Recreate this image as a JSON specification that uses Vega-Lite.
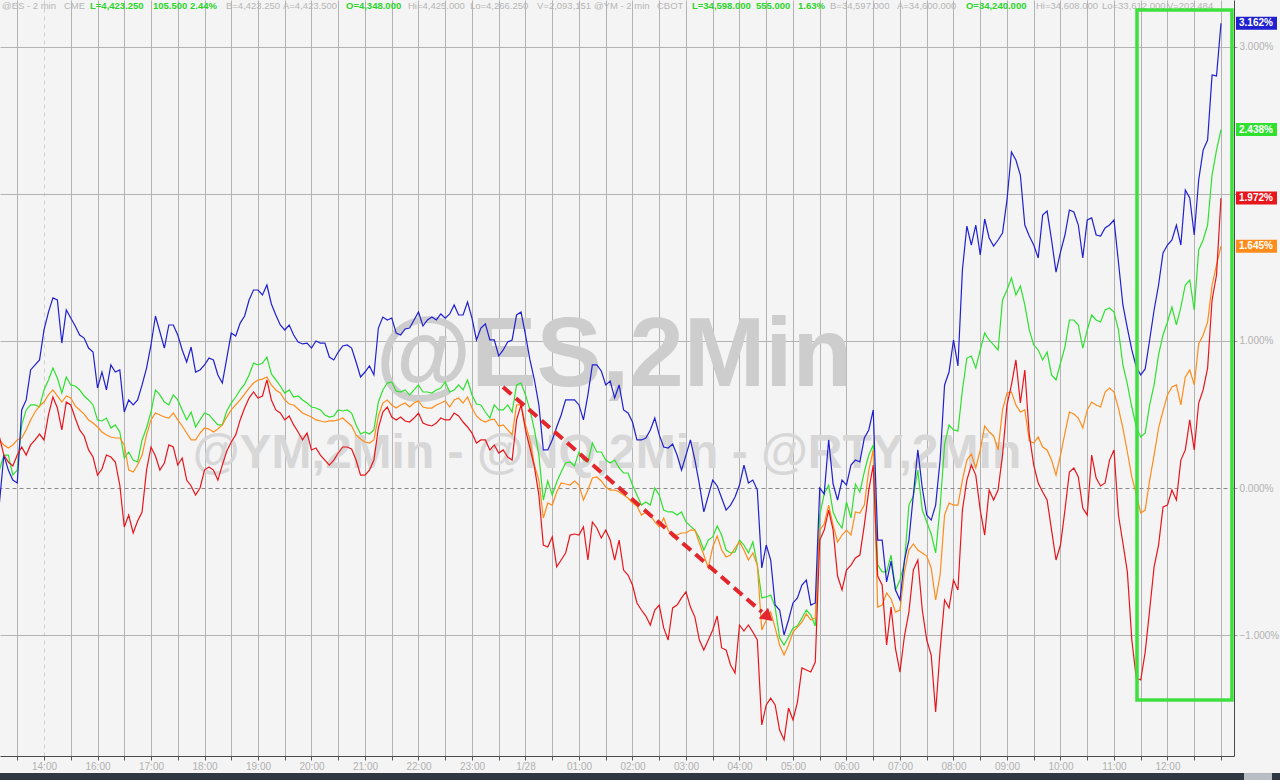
{
  "$schema": "https://vega.github.io/schema/vega-lite/v6.json",
  "width": 1234,
  "height": 756,
  "autosize": {"type": "none"},
  "padding": {"left": 0, "top": 0, "right": 46, "bottom": 24},
  "background": "#f4f4f4",
  "config": {
    "view": {"stroke": null},
    "text": {"font": "Liberation Sans"},
    "axis": {"labelFont": "Liberation Sans"}
  },
  "datasets": {
    "px": [
      {"m": -50, "ES": 0.122, "YM": 0.327, "NQ": -0.102, "RTY": 0.347},
      {"m": -45, "ES": 0.224, "YM": 0.293, "NQ": 0.224, "RTY": 0.224},
      {"m": -40, "ES": 0.224, "YM": 0.272, "NQ": 0.122, "RTY": 0.177},
      {"m": -35, "ES": 0.088, "YM": 0.293, "NQ": 0.054, "RTY": 0.150},
      {"m": -30, "ES": 0.122, "YM": 0.327, "NQ": 0.034, "RTY": 0.224},
      {"m": -25, "ES": 0.429, "YM": 0.340, "NQ": 0.531, "RTY": 0.279},
      {"m": -20, "ES": 0.531, "YM": 0.395, "NQ": 0.599, "RTY": 0.224},
      {"m": -15, "ES": 0.565, "YM": 0.463, "NQ": 0.803, "RTY": 0.293},
      {"m": -10, "ES": 0.565, "YM": 0.517, "NQ": 0.837, "RTY": 0.327},
      {"m": -5, "ES": 0.551, "YM": 0.558, "NQ": 0.871, "RTY": 0.367},
      {"m": 0, "ES": 0.667, "YM": 0.585, "NQ": 1.075, "RTY": 0.327},
      {"m": 5, "ES": 0.735, "YM": 0.633, "NQ": 1.197, "RTY": 0.497},
      {"m": 10, "ES": 0.816, "YM": 0.667, "NQ": 1.293, "RTY": 0.619},
      {"m": 15, "ES": 0.748, "YM": 0.626, "NQ": 1.279, "RTY": 0.544},
      {"m": 20, "ES": 0.646, "YM": 0.585, "NQ": 0.986, "RTY": 0.395},
      {"m": 25, "ES": 0.755, "YM": 0.626, "NQ": 1.211, "RTY": 0.585},
      {"m": 30, "ES": 0.701, "YM": 0.612, "NQ": 1.156, "RTY": 0.565},
      {"m": 35, "ES": 0.694, "YM": 0.558, "NQ": 1.102, "RTY": 0.476},
      {"m": 40, "ES": 0.667, "YM": 0.531, "NQ": 1.041, "RTY": 0.395},
      {"m": 45, "ES": 0.626, "YM": 0.503, "NQ": 1.020, "RTY": 0.354},
      {"m": 50, "ES": 0.599, "YM": 0.463, "NQ": 0.952, "RTY": 0.259},
      {"m": 55, "ES": 0.565, "YM": 0.442, "NQ": 0.925, "RTY": 0.211},
      {"m": 60, "ES": 0.463, "YM": 0.415, "NQ": 0.680, "RTY": 0.088},
      {"m": 65, "ES": 0.456, "YM": 0.381, "NQ": 0.789, "RTY": 0.129},
      {"m": 70, "ES": 0.476, "YM": 0.361, "NQ": 0.667, "RTY": 0.224},
      {"m": 75, "ES": 0.408, "YM": 0.347, "NQ": 0.837, "RTY": 0.211},
      {"m": 80, "ES": 0.429, "YM": 0.340, "NQ": 0.789, "RTY": 0.177},
      {"m": 85, "ES": 0.381, "YM": 0.340, "NQ": 0.803, "RTY": 0.020},
      {"m": 90, "ES": 0.204, "YM": 0.293, "NQ": 0.517, "RTY": -0.265},
      {"m": 95, "ES": 0.245, "YM": 0.122, "NQ": 0.599, "RTY": -0.184},
      {"m": 100, "ES": 0.190, "YM": 0.109, "NQ": 0.565, "RTY": -0.306},
      {"m": 105, "ES": 0.177, "YM": 0.156, "NQ": 0.599, "RTY": -0.224},
      {"m": 110, "ES": 0.327, "YM": 0.224, "NQ": 0.701, "RTY": -0.163},
      {"m": 115, "ES": 0.408, "YM": 0.361, "NQ": 0.816, "RTY": 0.122},
      {"m": 120, "ES": 0.517, "YM": 0.463, "NQ": 0.973, "RTY": 0.279},
      {"m": 125, "ES": 0.667, "YM": 0.510, "NQ": 1.170, "RTY": 0.218},
      {"m": 130, "ES": 0.633, "YM": 0.497, "NQ": 1.061, "RTY": 0.122},
      {"m": 135, "ES": 0.585, "YM": 0.483, "NQ": 0.952, "RTY": 0.170},
      {"m": 140, "ES": 0.565, "YM": 0.476, "NQ": 1.109, "RTY": 0.293},
      {"m": 145, "ES": 0.633, "YM": 0.510, "NQ": 1.109, "RTY": 0.279},
      {"m": 150, "ES": 0.599, "YM": 0.463, "NQ": 1.041, "RTY": 0.156},
      {"m": 155, "ES": 0.531, "YM": 0.422, "NQ": 0.939, "RTY": 0.204},
      {"m": 160, "ES": 0.463, "YM": 0.374, "NQ": 0.857, "RTY": 0.054},
      {"m": 165, "ES": 0.517, "YM": 0.327, "NQ": 0.959, "RTY": 0.014},
      {"m": 170, "ES": 0.415, "YM": 0.327, "NQ": 0.789, "RTY": -0.048},
      {"m": 175, "ES": 0.463, "YM": 0.374, "NQ": 0.803, "RTY": 0.000},
      {"m": 180, "ES": 0.510, "YM": 0.408, "NQ": 0.837, "RTY": 0.122},
      {"m": 185, "ES": 0.497, "YM": 0.401, "NQ": 0.884, "RTY": 0.143},
      {"m": 190, "ES": 0.463, "YM": 0.381, "NQ": 0.871, "RTY": 0.122},
      {"m": 195, "ES": 0.429, "YM": 0.401, "NQ": 0.769, "RTY": 0.054},
      {"m": 200, "ES": 0.429, "YM": 0.429, "NQ": 0.714, "RTY": 0.156},
      {"m": 205, "ES": 0.524, "YM": 0.483, "NQ": 0.884, "RTY": 0.252},
      {"m": 210, "ES": 0.578, "YM": 0.531, "NQ": 1.054, "RTY": 0.313},
      {"m": 215, "ES": 0.619, "YM": 0.565, "NQ": 1.034, "RTY": 0.361},
      {"m": 220, "ES": 0.667, "YM": 0.599, "NQ": 1.122, "RTY": 0.463},
      {"m": 225, "ES": 0.707, "YM": 0.639, "NQ": 1.170, "RTY": 0.544},
      {"m": 230, "ES": 0.769, "YM": 0.680, "NQ": 1.279, "RTY": 0.612},
      {"m": 235, "ES": 0.850, "YM": 0.714, "NQ": 1.347, "RTY": 0.653},
      {"m": 240, "ES": 0.837, "YM": 0.735, "NQ": 1.347, "RTY": 0.612},
      {"m": 245, "ES": 0.850, "YM": 0.741, "NQ": 1.313, "RTY": 0.626},
      {"m": 250, "ES": 0.891, "YM": 0.755, "NQ": 1.381, "RTY": 0.735},
      {"m": 255, "ES": 0.776, "YM": 0.701, "NQ": 1.252, "RTY": 0.599},
      {"m": 260, "ES": 0.735, "YM": 0.667, "NQ": 1.177, "RTY": 0.531},
      {"m": 265, "ES": 0.694, "YM": 0.646, "NQ": 1.109, "RTY": 0.510},
      {"m": 270, "ES": 0.646, "YM": 0.599, "NQ": 1.075, "RTY": 0.463},
      {"m": 275, "ES": 0.667, "YM": 0.571, "NQ": 1.109, "RTY": 0.490},
      {"m": 280, "ES": 0.619, "YM": 0.565, "NQ": 1.041, "RTY": 0.429},
      {"m": 285, "ES": 0.626, "YM": 0.537, "NQ": 0.993, "RTY": 0.381},
      {"m": 290, "ES": 0.599, "YM": 0.510, "NQ": 0.980, "RTY": 0.327},
      {"m": 295, "ES": 0.578, "YM": 0.497, "NQ": 0.986, "RTY": 0.374},
      {"m": 300, "ES": 0.551, "YM": 0.483, "NQ": 0.952, "RTY": 0.259},
      {"m": 305, "ES": 0.544, "YM": 0.463, "NQ": 1.000, "RTY": 0.272},
      {"m": 310, "ES": 0.531, "YM": 0.456, "NQ": 0.986, "RTY": 0.224},
      {"m": 315, "ES": 0.497, "YM": 0.449, "NQ": 0.986, "RTY": 0.190},
      {"m": 320, "ES": 0.483, "YM": 0.456, "NQ": 0.891, "RTY": 0.156},
      {"m": 325, "ES": 0.490, "YM": 0.456, "NQ": 0.871, "RTY": 0.190},
      {"m": 330, "ES": 0.531, "YM": 0.463, "NQ": 0.925, "RTY": 0.238},
      {"m": 335, "ES": 0.524, "YM": 0.476, "NQ": 0.966, "RTY": 0.279},
      {"m": 340, "ES": 0.531, "YM": 0.449, "NQ": 0.973, "RTY": 0.279},
      {"m": 345, "ES": 0.510, "YM": 0.422, "NQ": 0.952, "RTY": 0.265},
      {"m": 350, "ES": 0.429, "YM": 0.361, "NQ": 0.857, "RTY": 0.190},
      {"m": 355, "ES": 0.367, "YM": 0.333, "NQ": 0.755, "RTY": 0.088},
      {"m": 360, "ES": 0.381, "YM": 0.313, "NQ": 0.789, "RTY": 0.088},
      {"m": 365, "ES": 0.367, "YM": 0.306, "NQ": 0.830, "RTY": 0.122},
      {"m": 370, "ES": 0.395, "YM": 0.327, "NQ": 0.769, "RTY": 0.190},
      {"m": 375, "ES": 0.585, "YM": 0.490, "NQ": 1.088, "RTY": 0.408},
      {"m": 380, "ES": 0.667, "YM": 0.578, "NQ": 1.163, "RTY": 0.517},
      {"m": 385, "ES": 0.714, "YM": 0.599, "NQ": 1.143, "RTY": 0.551},
      {"m": 390, "ES": 0.721, "YM": 0.565, "NQ": 1.156, "RTY": 0.483},
      {"m": 395, "ES": 0.660, "YM": 0.544, "NQ": 1.054, "RTY": 0.463},
      {"m": 400, "ES": 0.653, "YM": 0.565, "NQ": 1.041, "RTY": 0.483},
      {"m": 405, "ES": 0.667, "YM": 0.578, "NQ": 1.082, "RTY": 0.456},
      {"m": 410, "ES": 0.633, "YM": 0.551, "NQ": 1.088, "RTY": 0.449},
      {"m": 415, "ES": 0.667, "YM": 0.578, "NQ": 1.143, "RTY": 0.476},
      {"m": 420, "ES": 0.701, "YM": 0.592, "NQ": 1.197, "RTY": 0.510},
      {"m": 425, "ES": 0.653, "YM": 0.551, "NQ": 1.102, "RTY": 0.442},
      {"m": 430, "ES": 0.653, "YM": 0.544, "NQ": 1.143, "RTY": 0.429},
      {"m": 435, "ES": 0.646, "YM": 0.544, "NQ": 1.163, "RTY": 0.422},
      {"m": 440, "ES": 0.667, "YM": 0.565, "NQ": 1.143, "RTY": 0.442},
      {"m": 445, "ES": 0.680, "YM": 0.578, "NQ": 1.184, "RTY": 0.476},
      {"m": 450, "ES": 0.721, "YM": 0.592, "NQ": 1.156, "RTY": 0.463},
      {"m": 455, "ES": 0.653, "YM": 0.551, "NQ": 1.184, "RTY": 0.463},
      {"m": 460, "ES": 0.667, "YM": 0.599, "NQ": 1.245, "RTY": 0.510},
      {"m": 465, "ES": 0.701, "YM": 0.612, "NQ": 1.177, "RTY": 0.490},
      {"m": 470, "ES": 0.667, "YM": 0.578, "NQ": 1.177, "RTY": 0.449},
      {"m": 475, "ES": 0.735, "YM": 0.619, "NQ": 1.265, "RTY": 0.415},
      {"m": 480, "ES": 0.633, "YM": 0.544, "NQ": 1.156, "RTY": 0.374},
      {"m": 485, "ES": 0.571, "YM": 0.490, "NQ": 1.007, "RTY": 0.306},
      {"m": 490, "ES": 0.565, "YM": 0.463, "NQ": 1.088, "RTY": 0.327},
      {"m": 495, "ES": 0.517, "YM": 0.449, "NQ": 1.116, "RTY": 0.327},
      {"m": 500, "ES": 0.476, "YM": 0.463, "NQ": 1.007, "RTY": 0.259},
      {"m": 505, "ES": 0.565, "YM": 0.469, "NQ": 1.007, "RTY": 0.293},
      {"m": 510, "ES": 0.531, "YM": 0.422, "NQ": 0.898, "RTY": 0.238},
      {"m": 515, "ES": 0.531, "YM": 0.429, "NQ": 0.939, "RTY": 0.259},
      {"m": 520, "ES": 0.565, "YM": 0.395, "NQ": 0.993, "RTY": 0.211},
      {"m": 525, "ES": 0.517, "YM": 0.361, "NQ": 1.007, "RTY": 0.190},
      {"m": 530, "ES": 0.701, "YM": 0.565, "NQ": 1.177, "RTY": 0.463},
      {"m": 535, "ES": 0.714, "YM": 0.565, "NQ": 1.197, "RTY": 0.565},
      {"m": 540, "ES": 0.633, "YM": 0.429, "NQ": 1.041, "RTY": 0.395},
      {"m": 545, "ES": 0.531, "YM": 0.327, "NQ": 0.871, "RTY": 0.272},
      {"m": 550, "ES": 0.395, "YM": 0.156, "NQ": 0.735, "RTY": 0.143},
      {"m": 555, "ES": 0.224, "YM": 0.054, "NQ": 0.565, "RTY": -0.048},
      {"m": 560, "ES": -0.082, "YM": -0.204, "NQ": 0.259, "RTY": -0.388},
      {"m": 565, "ES": 0.048, "YM": -0.102, "NQ": 0.259, "RTY": -0.401},
      {"m": 570, "ES": -0.048, "YM": -0.116, "NQ": 0.327, "RTY": -0.333},
      {"m": 575, "ES": 0.041, "YM": -0.027, "NQ": 0.415, "RTY": -0.537},
      {"m": 580, "ES": 0.109, "YM": 0.034, "NQ": 0.497, "RTY": -0.490},
      {"m": 585, "ES": 0.170, "YM": 0.027, "NQ": 0.599, "RTY": -0.442},
      {"m": 590, "ES": 0.177, "YM": 0.020, "NQ": 0.599, "RTY": -0.320},
      {"m": 595, "ES": 0.150, "YM": 0.048, "NQ": 0.599, "RTY": -0.313},
      {"m": 600, "ES": 0.245, "YM": 0.020, "NQ": 0.565, "RTY": -0.320},
      {"m": 605, "ES": 0.190, "YM": -0.082, "NQ": 0.463, "RTY": -0.265},
      {"m": 610, "ES": 0.177, "YM": -0.014, "NQ": 0.633, "RTY": -0.490},
      {"m": 615, "ES": 0.306, "YM": 0.068, "NQ": 0.837, "RTY": -0.231},
      {"m": 620, "ES": 0.245, "YM": 0.075, "NQ": 0.837, "RTY": -0.272},
      {"m": 625, "ES": 0.245, "YM": 0.048, "NQ": 0.796, "RTY": -0.340},
      {"m": 630, "ES": 0.190, "YM": 0.007, "NQ": 0.701, "RTY": -0.286},
      {"m": 635, "ES": 0.170, "YM": -0.014, "NQ": 0.728, "RTY": -0.354},
      {"m": 640, "ES": 0.190, "YM": -0.014, "NQ": 0.612, "RTY": -0.490},
      {"m": 645, "ES": 0.136, "YM": -0.027, "NQ": 0.701, "RTY": -0.354},
      {"m": 650, "ES": 0.102, "YM": -0.048, "NQ": 0.531, "RTY": -0.558},
      {"m": 655, "ES": 0.102, "YM": -0.068, "NQ": 0.510, "RTY": -0.592},
      {"m": 660, "ES": 0.020, "YM": -0.102, "NQ": 0.449, "RTY": -0.660},
      {"m": 665, "ES": -0.048, "YM": -0.122, "NQ": 0.327, "RTY": -0.782},
      {"m": 670, "ES": -0.116, "YM": -0.184, "NQ": 0.327, "RTY": -0.830},
      {"m": 675, "ES": -0.095, "YM": -0.163, "NQ": 0.340, "RTY": -0.871},
      {"m": 680, "ES": -0.116, "YM": -0.184, "NQ": 0.395, "RTY": -0.932},
      {"m": 685, "ES": 0.000, "YM": -0.231, "NQ": 0.476, "RTY": -0.830},
      {"m": 690, "ES": -0.048, "YM": -0.265, "NQ": 0.361, "RTY": -0.796},
      {"m": 695, "ES": -0.150, "YM": -0.204, "NQ": 0.279, "RTY": -0.952},
      {"m": 700, "ES": -0.163, "YM": -0.286, "NQ": 0.272, "RTY": -1.034},
      {"m": 705, "ES": -0.163, "YM": -0.333, "NQ": 0.299, "RTY": -0.816},
      {"m": 710, "ES": -0.184, "YM": -0.320, "NQ": 0.224, "RTY": -0.796},
      {"m": 715, "ES": -0.163, "YM": -0.306, "NQ": 0.122, "RTY": -0.748},
      {"m": 720, "ES": -0.231, "YM": -0.306, "NQ": 0.224, "RTY": -0.707},
      {"m": 725, "ES": -0.259, "YM": -0.286, "NQ": 0.327, "RTY": -0.810},
      {"m": 730, "ES": -0.286, "YM": -0.286, "NQ": 0.190, "RTY": -0.878},
      {"m": 735, "ES": -0.340, "YM": -0.374, "NQ": 0.027, "RTY": -1.034},
      {"m": 740, "ES": -0.422, "YM": -0.456, "NQ": -0.163, "RTY": -1.102},
      {"m": 745, "ES": -0.354, "YM": -0.544, "NQ": -0.054, "RTY": -1.034},
      {"m": 750, "ES": -0.333, "YM": -0.401, "NQ": 0.054, "RTY": -0.966},
      {"m": 755, "ES": -0.259, "YM": -0.327, "NQ": 0.014, "RTY": -0.871},
      {"m": 760, "ES": -0.320, "YM": -0.422, "NQ": -0.068, "RTY": -1.088},
      {"m": 765, "ES": -0.422, "YM": -0.469, "NQ": -0.150, "RTY": -1.102},
      {"m": 770, "ES": -0.442, "YM": -0.456, "NQ": -0.116, "RTY": -1.204},
      {"m": 775, "ES": -0.435, "YM": -0.408, "NQ": -0.061, "RTY": -1.259},
      {"m": 780, "ES": -0.354, "YM": -0.367, "NQ": 0.020, "RTY": -0.932},
      {"m": 785, "ES": -0.388, "YM": -0.422, "NQ": 0.156, "RTY": -0.973},
      {"m": 790, "ES": -0.442, "YM": -0.490, "NQ": 0.034, "RTY": -0.932},
      {"m": 795, "ES": -0.367, "YM": -0.442, "NQ": 0.054, "RTY": -0.980},
      {"m": 800, "ES": -0.524, "YM": -0.524, "NQ": -0.014, "RTY": -1.034},
      {"m": 805, "ES": -0.748, "YM": -0.966, "NQ": -0.544, "RTY": -1.612},
      {"m": 810, "ES": -0.741, "YM": -0.898, "NQ": -0.388, "RTY": -1.476},
      {"m": 815, "ES": -0.728, "YM": -0.844, "NQ": -0.490, "RTY": -1.429},
      {"m": 820, "ES": -0.810, "YM": -0.952, "NQ": -0.796, "RTY": -1.476},
      {"m": 825, "ES": -1.020, "YM": -1.068, "NQ": -0.830, "RTY": -1.646},
      {"m": 830, "ES": -1.068, "YM": -1.136, "NQ": -1.000, "RTY": -1.714},
      {"m": 835, "ES": -1.014, "YM": -1.068, "NQ": -0.898, "RTY": -1.497},
      {"m": 840, "ES": -0.952, "YM": -0.980, "NQ": -0.782, "RTY": -1.578},
      {"m": 845, "ES": -0.939, "YM": -0.946, "NQ": -0.748, "RTY": -1.456},
      {"m": 850, "ES": -0.884, "YM": -0.912, "NQ": -0.660, "RTY": -1.224},
      {"m": 855, "ES": -0.830, "YM": -0.857, "NQ": -0.626, "RTY": -1.238},
      {"m": 860, "ES": -0.864, "YM": -0.898, "NQ": -0.796, "RTY": -1.252},
      {"m": 865, "ES": -0.939, "YM": -0.884, "NQ": -0.782, "RTY": -1.184},
      {"m": 870, "ES": -0.184, "YM": -0.286, "NQ": 0.000, "RTY": -0.354},
      {"m": 875, "ES": -0.041, "YM": -0.245, "NQ": -0.041, "RTY": -0.286},
      {"m": 880, "ES": 0.020, "YM": -0.116, "NQ": 0.327, "RTY": -0.150},
      {"m": 885, "ES": -0.163, "YM": -0.252, "NQ": 0.027, "RTY": -0.286},
      {"m": 890, "ES": -0.231, "YM": -0.367, "NQ": -0.082, "RTY": -0.599},
      {"m": 895, "ES": -0.272, "YM": -0.320, "NQ": 0.054, "RTY": -0.694},
      {"m": 900, "ES": -0.095, "YM": -0.286, "NQ": 0.020, "RTY": -0.558},
      {"m": 905, "ES": -0.204, "YM": -0.320, "NQ": 0.156, "RTY": -0.524},
      {"m": 910, "ES": 0.027, "YM": -0.163, "NQ": 0.190, "RTY": -0.476},
      {"m": 915, "ES": -0.027, "YM": -0.170, "NQ": 0.177, "RTY": -0.456},
      {"m": 920, "ES": 0.109, "YM": -0.116, "NQ": 0.340, "RTY": -0.252},
      {"m": 925, "ES": 0.224, "YM": 0.122, "NQ": 0.395, "RTY": -0.014},
      {"m": 930, "ES": 0.293, "YM": 0.259, "NQ": 0.531, "RTY": 0.156},
      {"m": 935, "ES": -0.524, "YM": -0.810, "NQ": -0.354, "RTY": -0.599},
      {"m": 940, "ES": -0.571, "YM": -0.796, "NQ": -0.354, "RTY": -0.660},
      {"m": 945, "ES": -0.571, "YM": -0.714, "NQ": -0.639, "RTY": -1.068},
      {"m": 950, "ES": -0.456, "YM": -0.755, "NQ": -0.497, "RTY": -0.810},
      {"m": 955, "ES": -0.694, "YM": -0.844, "NQ": -0.694, "RTY": -1.095},
      {"m": 960, "ES": -0.626, "YM": -0.830, "NQ": -0.762, "RTY": -1.252},
      {"m": 965, "ES": -0.510, "YM": -0.571, "NQ": -0.490, "RTY": -1.007},
      {"m": 970, "ES": -0.116, "YM": -0.422, "NQ": -0.354, "RTY": -0.844},
      {"m": 975, "ES": -0.054, "YM": -0.381, "NQ": -0.048, "RTY": -0.558},
      {"m": 980, "ES": 0.122, "YM": -0.422, "NQ": 0.259, "RTY": -0.490},
      {"m": 985, "ES": -0.150, "YM": -0.442, "NQ": 0.000, "RTY": -0.830},
      {"m": 990, "ES": -0.231, "YM": -0.463, "NQ": -0.184, "RTY": -1.034},
      {"m": 995, "ES": -0.313, "YM": -0.544, "NQ": -0.218, "RTY": -1.136},
      {"m": 1000, "ES": -0.442, "YM": -0.762, "NQ": -0.116, "RTY": -1.524},
      {"m": 1005, "ES": -0.129, "YM": -0.592, "NQ": 0.190, "RTY": -1.102},
      {"m": 1010, "ES": 0.293, "YM": -0.184, "NQ": 0.701, "RTY": -0.762},
      {"m": 1015, "ES": 0.429, "YM": -0.102, "NQ": 0.789, "RTY": -0.816},
      {"m": 1020, "ES": 0.395, "YM": -0.116, "NQ": 1.007, "RTY": -0.626},
      {"m": 1025, "ES": 0.388, "YM": -0.116, "NQ": 0.830, "RTY": -0.694},
      {"m": 1030, "ES": 0.667, "YM": 0.054, "NQ": 1.483, "RTY": -0.150},
      {"m": 1035, "ES": 0.884, "YM": 0.190, "NQ": 1.782, "RTY": 0.054},
      {"m": 1040, "ES": 0.898, "YM": 0.231, "NQ": 1.653, "RTY": 0.156},
      {"m": 1045, "ES": 0.816, "YM": 0.136, "NQ": 1.789, "RTY": 0.088},
      {"m": 1050, "ES": 0.939, "YM": 0.259, "NQ": 1.585, "RTY": -0.150},
      {"m": 1055, "ES": 1.054, "YM": 0.422, "NQ": 1.830, "RTY": -0.320},
      {"m": 1060, "ES": 1.007, "YM": 0.381, "NQ": 1.701, "RTY": -0.014},
      {"m": 1065, "ES": 0.973, "YM": 0.354, "NQ": 1.646, "RTY": -0.082},
      {"m": 1070, "ES": 0.939, "YM": 0.259, "NQ": 1.687, "RTY": -0.014},
      {"m": 1075, "ES": 1.279, "YM": 0.531, "NQ": 1.735, "RTY": 0.224},
      {"m": 1080, "ES": 1.347, "YM": 0.646, "NQ": 1.959, "RTY": 0.565},
      {"m": 1085, "ES": 1.429, "YM": 0.653, "NQ": 2.286, "RTY": 0.701},
      {"m": 1090, "ES": 1.313, "YM": 0.565, "NQ": 2.231, "RTY": 0.871},
      {"m": 1095, "ES": 1.374, "YM": 0.517, "NQ": 2.129, "RTY": 0.578},
      {"m": 1100, "ES": 1.245, "YM": 0.531, "NQ": 1.789, "RTY": 0.803},
      {"m": 1105, "ES": 1.075, "YM": 0.320, "NQ": 1.714, "RTY": 0.361},
      {"m": 1110, "ES": 0.973, "YM": 0.306, "NQ": 1.653, "RTY": 0.156},
      {"m": 1115, "ES": 0.939, "YM": 0.347, "NQ": 1.565, "RTY": 0.034},
      {"m": 1120, "ES": 0.871, "YM": 0.279, "NQ": 1.857, "RTY": -0.027},
      {"m": 1125, "ES": 0.925, "YM": 0.259, "NQ": 1.884, "RTY": -0.082},
      {"m": 1130, "ES": 0.769, "YM": 0.190, "NQ": 1.687, "RTY": -0.286},
      {"m": 1135, "ES": 0.735, "YM": 0.088, "NQ": 1.469, "RTY": -0.490},
      {"m": 1140, "ES": 0.850, "YM": 0.224, "NQ": 1.605, "RTY": -0.388},
      {"m": 1145, "ES": 0.959, "YM": 0.374, "NQ": 1.721, "RTY": -0.150},
      {"m": 1150, "ES": 1.143, "YM": 0.517, "NQ": 1.891, "RTY": 0.109},
      {"m": 1155, "ES": 1.143, "YM": 0.503, "NQ": 1.878, "RTY": 0.136},
      {"m": 1160, "ES": 1.109, "YM": 0.476, "NQ": 1.789, "RTY": 0.075},
      {"m": 1165, "ES": 0.952, "YM": 0.408, "NQ": 1.565, "RTY": -0.136},
      {"m": 1170, "ES": 1.075, "YM": 0.531, "NQ": 1.823, "RTY": -0.184},
      {"m": 1175, "ES": 1.177, "YM": 0.585, "NQ": 1.837, "RTY": 0.224},
      {"m": 1180, "ES": 1.143, "YM": 0.565, "NQ": 1.721, "RTY": 0.068},
      {"m": 1185, "ES": 1.129, "YM": 0.551, "NQ": 1.714, "RTY": 0.014},
      {"m": 1190, "ES": 1.211, "YM": 0.653, "NQ": 1.769, "RTY": 0.034},
      {"m": 1195, "ES": 1.224, "YM": 0.680, "NQ": 1.789, "RTY": 0.190},
      {"m": 1200, "ES": 1.197, "YM": 0.653, "NQ": 1.823, "RTY": 0.259},
      {"m": 1205, "ES": 1.075, "YM": 0.544, "NQ": 1.537, "RTY": -0.184},
      {"m": 1210, "ES": 0.837, "YM": 0.408, "NQ": 1.245, "RTY": -0.374},
      {"m": 1215, "ES": 0.707, "YM": 0.245, "NQ": 1.088, "RTY": -0.571},
      {"m": 1220, "ES": 0.551, "YM": 0.075, "NQ": 0.939, "RTY": -1.034},
      {"m": 1225, "ES": 0.415, "YM": -0.041, "NQ": 0.823, "RTY": -1.293},
      {"m": 1230, "ES": 0.347, "YM": -0.170, "NQ": 0.769, "RTY": -1.306},
      {"m": 1235, "ES": 0.374, "YM": -0.150, "NQ": 0.810, "RTY": -1.116},
      {"m": 1240, "ES": 0.565, "YM": 0.054, "NQ": 1.007, "RTY": -0.830},
      {"m": 1245, "ES": 0.701, "YM": 0.224, "NQ": 1.211, "RTY": -0.537},
      {"m": 1250, "ES": 0.905, "YM": 0.408, "NQ": 1.381, "RTY": -0.388},
      {"m": 1255, "ES": 1.041, "YM": 0.524, "NQ": 1.599, "RTY": -0.129},
      {"m": 1260, "ES": 1.129, "YM": 0.633, "NQ": 1.653, "RTY": -0.116},
      {"m": 1265, "ES": 1.231, "YM": 0.687, "NQ": 1.687, "RTY": -0.014},
      {"m": 1270, "ES": 1.109, "YM": 0.701, "NQ": 1.789, "RTY": -0.082},
      {"m": 1275, "ES": 1.231, "YM": 0.565, "NQ": 1.653, "RTY": 0.190},
      {"m": 1280, "ES": 1.381, "YM": 0.755, "NQ": 2.027, "RTY": 0.259},
      {"m": 1285, "ES": 1.415, "YM": 0.803, "NQ": 1.973, "RTY": 0.463},
      {"m": 1290, "ES": 1.211, "YM": 0.701, "NQ": 1.721, "RTY": 0.259},
      {"m": 1295, "ES": 1.619, "YM": 0.980, "NQ": 2.095, "RTY": 0.578},
      {"m": 1300, "ES": 1.687, "YM": 1.041, "NQ": 2.299, "RTY": 0.667},
      {"m": 1305, "ES": 1.789, "YM": 1.129, "NQ": 2.367, "RTY": 0.816},
      {"m": 1310, "ES": 2.129, "YM": 1.381, "NQ": 2.810, "RTY": 1.279},
      {"m": 1315, "ES": 2.299, "YM": 1.517, "NQ": 2.803, "RTY": 1.449},
      {"m": 1320, "ES": 2.438, "YM": 1.645, "NQ": 3.162, "RTY": 1.972}
    ],
    "wm1": [{"m": 639.3, "v": 0.694, "t": "@ES,2Min"}],
    "wm2": [{"m": 631.4, "v": 0.136, "t": "@YM,2Min - @NQ,2Min - @RTY,2Min"}],
    "scroll": [{"m": -80, "m2": 1420, "v": -1.939, "v2": -2.1}],
    "thumb": [{"m": 1345.8, "m2": 1377.2, "v": -1.939, "v2": -2.1}],
    "arrow": [{"m": 514.8, "v": 0.687, "m2": 805.2, "v2": -0.844}],
    "head": [{"m": 812.0, "v": -0.878}],
    "box": [{"m": 1225.8, "m2": 1332.3, "v": 3.252, "v2": -1.442}],
    "hdr": [
      {"m": -47.1, "v": 3.279, "t": "@ES - 2 min", "kind": "info"},
      {"m": 22.4, "v": 3.279, "t": "CME", "kind": "info"},
      {"m": 51.6, "v": 3.279, "t": "L=4,423.250", "kind": "quote"},
      {"m": 122.2, "v": 3.279, "t": "105.500", "kind": "quote"},
      {"m": 163.7, "v": 3.279, "t": "2.44%", "kind": "quote"},
      {"m": 204.1, "v": 3.279, "t": "B=4,423.250", "kind": "info"},
      {"m": 268.0, "v": 3.279, "t": "A=4,423.500", "kind": "info"},
      {"m": 338.7, "v": 3.279, "t": "O=4,348.000", "kind": "quote"},
      {"m": 408.2, "v": 3.279, "t": "Hi=4,425.000", "kind": "info"},
      {"m": 477.7, "v": 3.279, "t": "Lo=4,266.250", "kind": "info"},
      {"m": 552.9, "v": 3.279, "t": "V=2,093,151", "kind": "info"},
      {"m": 616.8, "v": 3.279, "t": "@YM - 2 min", "kind": "info"},
      {"m": 687.5, "v": 3.279, "t": "CBOT", "kind": "info"},
      {"m": 726.7, "v": 3.279, "t": "L=34,598.000", "kind": "quote"},
      {"m": 798.5, "v": 3.279, "t": "555.000", "kind": "quote"},
      {"m": 845.6, "v": 3.279, "t": "1.63%", "kind": "quote"},
      {"m": 881.5, "v": 3.279, "t": "B=34,597.000", "kind": "info"},
      {"m": 956.6, "v": 3.279, "t": "A=34,600.000", "kind": "info"},
      {"m": 1034.0, "v": 3.279, "t": "O=34,240.000", "kind": "quote"},
      {"m": 1112.5, "v": 3.279, "t": "Hi=34,608.000", "kind": "info"},
      {"m": 1186.5, "v": 3.279, "t": "Lo=33,612.000", "kind": "info"},
      {"m": 1259.4, "v": 3.279, "t": "V=202,484", "kind": "info"}
    ],
    "endlabels": [
      {"sym": "NQ", "m": 1336.8, "m2": 1382.8, "v": 3.162, "t": "3.162%"},
      {"sym": "ES", "m": 1336.8, "m2": 1382.8, "v": 2.438, "t": "2.438%"},
      {"sym": "RTY", "m": 1336.8, "m2": 1382.8, "v": 1.972, "t": "1.972%"},
      {"sym": "YM", "m": 1336.8, "m2": 1382.8, "v": 1.645, "t": "1.645%"}
    ]
  },
  "encoding": {
    "x": {
      "field": "m",
      "type": "quantitative",
      "scale": {"domain": [-49.35, 1334.6], "nice": false, "zero": false},
      "axis": {
        "title": null,
        "values": [-30,0,30,60,90,120,150,180,210,240,270,300,330,360,390,420,450,480,510,540,570,600,630,660,690,720,750,780,810,840,870,900,930,960,990,1020,1050,1080,1110,1140,1170,1200,1230,1260,1290,1320],
        "labelExpr": "datum.value >= 0 && datum.value <= 1260 && datum.value % 60 === 0 ? ['14:00','16:00','17:00','18:00','19:00','20:00','21:00','22:00','23:00','1/28','01:00','02:00','03:00','04:00','05:00','06:00','07:00','08:00','09:00','10:00','11:00','12:00'][datum.value / 60] : ''",
        "grid": true,
        "gridColor": {"condition": {"test": "datum.value === 0", "value": "#cfcfcf"}, "value": "#b3b3b3"},
        "gridDash": {"condition": {"test": "datum.value === 0", "value": [4, 4]}, "value": []},
        "gridWidth": 1,
        "domainColor": "#4a4a4a",
        "domainWidth": 1,
        "tickColor": "#5a5a5a",
        "tickSize": 4,
        "labelColor": "#b0b0b0",
        "labelFontSize": 10,
        "labelPadding": 1,
        "labelOverlap": false,
        "labelFlush": false,
        "labelBound": false
      }
    },
    "y": {
      "field": "v",
      "type": "quantitative",
      "scale": {"domain": [-1.8231, 3.3197], "nice": false, "zero": false},
      "axis": {
        "orient": "right",
        "title": null,
        "values": [-1, 0, 1, 2, 3],
        "labelExpr": "datum.value === 2 ? '' : format(datum.value, '.3f') + '%'",
        "grid": true,
        "gridColor": {"condition": {"test": "datum.value === 0", "value": "#8a8a8a"}, "value": "#b3b3b3"},
        "gridDash": {"condition": {"test": "datum.value === 0", "value": [4, 3]}, "value": []},
        "domainColor": "#4a4a4a",
        "tickColor": "#9a9a9a",
        "tickSize": 3,
        "labelColor": "#b2b2b2",
        "labelFontSize": 10,
        "labelPadding": 2,
        "labelBaseline": "middle"
      }
    }
  },
  "layer": [
    {
      "data": {"name": "wm1"},
      "mark": {"type": "text", "fontSize": 98, "fontWeight": "bold", "color": "#cdcdcd", "align": "center", "baseline": "alphabetic"},
      "encoding": {"text": {"field": "t"}}
    },
    {
      "data": {"name": "wm2"},
      "mark": {"type": "text", "fontSize": 48, "fontWeight": "bold", "color": "#d7d7d7", "align": "center", "baseline": "alphabetic"},
      "encoding": {"text": {"field": "t"}}
    },
    {
      "data": {"name": "scroll"},
      "mark": {"type": "rect", "color": "#2f3742"},
      "encoding": {"x2": {"field": "m2"}, "y2": {"field": "v2"}}
    },
    {
      "data": {"name": "thumb"},
      "mark": {"type": "rect", "color": "#b9bec5"},
      "encoding": {"x2": {"field": "m2"}, "y2": {"field": "v2"}}
    },
    {
      "data": {"name": "px"},
      "transform": [{"fold": ["ES", "YM", "NQ", "RTY"], "as": ["sym", "v"]}],
      "mark": {"type": "line", "strokeWidth": 1.2, "clip": true},
      "encoding": {
        "color": {
          "field": "sym",
          "type": "nominal",
          "scale": {"domain": ["ES", "YM", "NQ", "RTY"], "range": ["#2fe02f", "#ff8c1a", "#2020d0", "#e8161c"]},
          "legend": null
        }
      }
    },
    {
      "data": {"name": "arrow"},
      "mark": {"type": "rule", "color": "#e3262b", "strokeWidth": 4, "strokeDash": [11, 6]},
      "encoding": {"x2": {"field": "m2"}, "y2": {"field": "v2"}}
    },
    {
      "data": {"name": "head"},
      "mark": {"type": "point", "shape": "triangle-up", "angle": 131, "size": 200, "filled": true, "color": "#e3262b", "opacity": 1}
    },
    {
      "data": {"name": "hdr"},
      "transform": [{"filter": "datum.kind === 'info'"}],
      "mark": {"type": "text", "fontSize": 9.5, "color": "#b6b6b6", "align": "left", "baseline": "middle"},
      "encoding": {"text": {"field": "t"}}
    },
    {
      "data": {"name": "hdr"},
      "transform": [{"filter": "datum.kind === 'quote'"}],
      "mark": {"type": "text", "fontSize": 9.5, "fontWeight": "bold", "color": "#2bd42b", "align": "left", "baseline": "middle"},
      "encoding": {"text": {"field": "t"}}
    },
    {
      "data": {"name": "box"},
      "mark": {"type": "rect", "fillOpacity": 0, "stroke": "#3ee03e", "strokeWidth": 3.5},
      "encoding": {"x2": {"field": "m2"}, "y2": {"field": "v2"}}
    },
    {
      "data": {"name": "endlabels"},
      "mark": {"type": "rule", "strokeWidth": 13, "strokeCap": "butt"},
      "encoding": {
        "x2": {"field": "m2"},
        "color": {"field": "sym", "type": "nominal", "legend": null}
      }
    },
    {
      "data": {"name": "endlabels"},
      "mark": {"type": "text", "fontSize": 10, "fontWeight": "bold", "color": "white", "align": "center", "baseline": "middle", "dx": 20},
      "encoding": {"text": {"field": "t"}}
    }
  ]
}
